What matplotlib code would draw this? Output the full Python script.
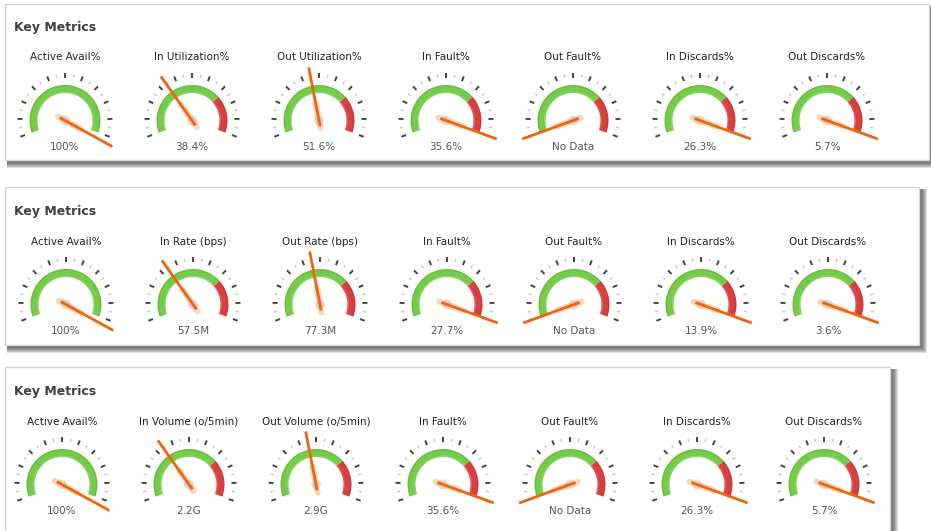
import numpy as np
import matplotlib
matplotlib.use("Agg")
import matplotlib.pyplot as plt
from matplotlib.patches import Wedge, Rectangle, Circle

plt.rcParams['font.family'] = ['DejaVu Sans']

W, H = 931, 531

# gauge titles per panel
titles_1 = ["Active Avail%", "In Utilization%", "Out Utilization%", "In Fault%",
            "Out Fault%", "In Discards%", "Out Discards%"]
titles_2 = ["Active Avail%", "In Rate (bps)", "Out Rate (bps)", "In Fault%",
            "Out Fault%", "In Discards%", "Out Discards%"]
titles_3 = ["Active Avail%", "In Volume (o/5min)", "Out Volume (o/5min)", "In Fault%",
            "Out Fault%", "In Discards%", "Out Discards%"]

# displayed readings
values_1 = ["100%", "38.4%", "51.6%", "35.6%", "No Data", "26.3%", "5.7%"]
values_2 = ["100%", "57.5M", "77.3M", "27.7%", "No Data", "13.9%", "3.6%"]
values_3 = ["100%", "2.2G", "2.9G", "35.6%", "No Data", "26.3%", "5.7%"]

# needle position as fraction of the dial
needle_1 = [1.04, 0.34, 0.45, 1.0, 0.0, 1.0, 1.0]
needle_2 = [1.04, 0.34, 0.45, 1.0, 0.0, 1.0, 1.0]
needle_3 = [1.04, 0.34, 0.45, 1.0, 0.0, 1.0, 1.0]

# where the red zone starts (None = all green)
red_from = [None, 0.72, 0.72, 0.72, 0.72, 0.72, 0.72]

# panel boxes: left, top, right, bottom (pixels) and gauge layout
panels = [
    dict(box=(5, 4, 929, 160), titles=titles_1, values=values_1, needle=needle_1,
         x0=65, head=27, title_y=57, cy=120.5, val_y=147),
    dict(box=(5, 187, 919, 345), titles=titles_2, values=values_2, needle=needle_2,
         x0=66, head=211, title_y=242, cy=304.5, val_y=331),
    dict(box=(5, 367, 890, 545), titles=titles_3, values=values_3, needle=needle_3,
         x0=62, head=391, title_y=422, cy=484.5, val_y=511),
]
STEP = 127

A_START, A_SPAN = 200.0, 220.0
R_OUT, R_IN = 35.5, 27.5
GREEN, RED, ORANGE = '#74cc48', '#d93f3f', '#ec650f'


def ang(f):
    return A_START - A_SPAN * f


def draw_gauge(ax, cx, cy, f_needle, f_red):
    # y axis is inverted, so visual angle a -> data angle -a
    end_green = 1.0 if f_red is None else f_red
    ax.add_patch(Wedge((cx, cy), R_OUT, -ang(0), -ang(end_green),
                       width=R_OUT - R_IN, facecolor=GREEN, edgecolor='none'))
    if f_red is not None:
        ax.add_patch(Wedge((cx, cy), R_OUT, -ang(f_red), -ang(1.0),
                           width=R_OUT - R_IN, facecolor=RED, edgecolor='none'))
    # soft darker rim on the outside, lighter on the inside
    ax.add_patch(Wedge((cx, cy), R_OUT, -ang(0), -ang(1.0), width=1.5,
                       facecolor=(0, 0, 0, 0.07), edgecolor='none'))
    ax.add_patch(Wedge((cx, cy), R_IN + 1.5, -ang(0), -ang(1.0), width=1.5,
                       facecolor=(1, 1, 1, 0.15), edgecolor='none'))

    # ticks: 11 major, 10 minor
    for k in range(21):
        a = np.deg2rad(ang(k / 20))
        if k % 2 == 0:
            r1, r2, c, lw = 42.5, 47.5, '#444444', 1.4
        else:
            r1, r2, c, lw = 43.5, 46.5, '#c4c4c4', 1.0
        ax.plot([cx + r1 * np.cos(a), cx + r2 * np.cos(a)],
                [cy - r1 * np.sin(a), cy - r2 * np.sin(a)],
                color=c, lw=lw, solid_capstyle='butt')

    # hub
    ax.add_patch(Circle((cx, cy), 5, facecolor='#e2e2e2', edgecolor='none'))

    # needle
    a = np.deg2rad(ang(f_needle))
    ux, uy = np.cos(a), -np.sin(a)
    ax.plot([cx - 8 * ux, cx + 18 * ux], [cy - 8 * uy, cy + 18 * uy],
            color='#f4a66a', lw=4.5, alpha=0.45, solid_capstyle='round')
    ax.plot([cx - 6 * ux, cx + 54 * ux], [cy - 6 * uy, cy + 54 * uy],
            color=ORANGE, lw=2.0, solid_capstyle='butt')


fig = plt.figure(figsize=(W / 100, H / 100), dpi=100)
ax = fig.add_axes([0, 0, 1, 1])
ax.set_xlim(0, W)
ax.set_ylim(H, 0)
ax.axis('off')
fig.patch.set_facecolor('white')

for p in panels:
    l, t, r, b = p['box']
    # drop shadow on the right and bottom
    for i in range(6, 0, -1):
        ax.add_patch(Rectangle((l + 2, t + 2), r - l + i, b - t + i,
                               facecolor=(0.2, 0.2, 0.2, 0.16), edgecolor='none'))
    ax.add_patch(Rectangle((l, t), r - l, b - t, facecolor='white',
                           edgecolor='#d4d4d4', lw=1.0))
    ax.text(l + 9, p['head'], "Key Metrics", fontsize=9, fontweight='bold',
            color='#404040', ha='left', va='center')
    for i in range(7):
        cx = p['x0'] + STEP * i
        ax.text(cx, p['title_y'], p['titles'][i], fontsize=7.5, color='#222222',
                ha='center', va='center')
        draw_gauge(ax, cx, p['cy'], p['needle'][i], red_from[i])
        ax.text(cx, p['val_y'], p['values'][i], fontsize=7.5, color='#555555',
                ha='center', va='center')

fig.savefig("out.png", dpi=100)
